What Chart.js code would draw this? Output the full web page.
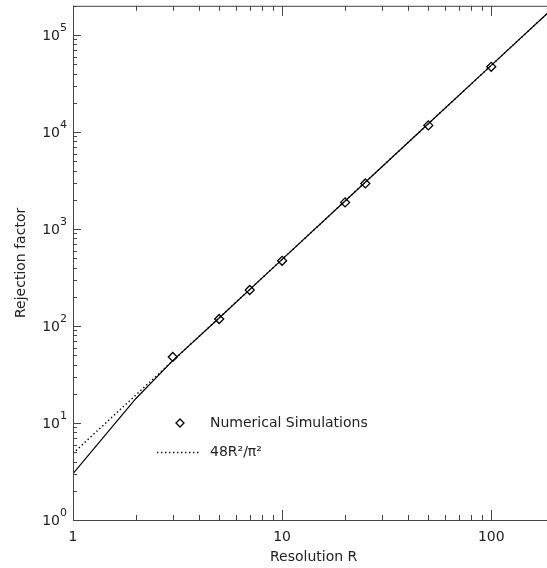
<!DOCTYPE html>
<html>
<head>
<meta charset="utf-8">
<script src="https://cdn.jsdelivr.net/npm/chart.js@4/dist/chart.umd.min.js"></script>
<style>
html,body{margin:0;padding:0;background:#fff;overflow:hidden;}
#wrap{width:560px;height:568px;}
</style>
</head>
<body>
<div id="wrap"><canvas id="c" width="560" height="568"></canvas></div>
<script>
// ---- data ----
const xTickValues = [1, 10, 100];
const yTickExponents = [0, 1, 2, 3, 4, 5];
const simR = [3, 5, 7, 10, 20, 25, 50, 100];
const simRejection = [48, 118, 235, 470, 1880, 2950, 11700, 47000];
const modelR = [1, 2, 3, 5, 10, 20, 50, 100, 200];
const modelRejection = [3.0, 17.9, 43.9, 121, 486, 1945, 12160, 48630, 194500];
const approxR = [1, 2, 3, 5, 10, 20, 50, 100, 200];
const approxRejection = [4.86, 19.5, 43.8, 121.6, 486, 1945, 12160, 48630, 194500];
const xTitle = 'Resolution R';
const yTitle = 'Rejection factor';
const legendSim = 'Numerical Simulations';
const legendApprox = '48R²/π²';

const toXY = (xs, ys) => xs.map((x, i) => ({x: x, y: ys[i]}));
const FONT = '"DejaVu Sans", sans-serif';
const TXT = '#222';
const AX = '#444';

const axesPlugin = {
  id: 'axesPlugin',
  afterDraw(chart) {
    const ctx = chart.ctx;
    const a = chart.chartArea;
    const xs = chart.scales.x, ys = chart.scales.y;
    ctx.save();
    ctx.strokeStyle = AX;
    ctx.lineWidth = 1;
    // box (right side falls outside the window)
    ctx.beginPath();
    ctx.moveTo(a.left + 0.5, a.top + 0.5);
    ctx.lineTo(a.left + 0.5, a.bottom + 0.5);
    ctx.moveTo(a.left, a.bottom + 0.5);
    ctx.lineTo(a.right, a.bottom + 0.5);
    ctx.moveTo(a.left, a.top + 0.5);
    ctx.lineTo(a.right, a.top + 0.5);
    ctx.stroke();
    // x ticks
    ctx.beginPath();
    for (let d = 0; d <= 3; d++) {
      for (let m = 1; m <= 9; m++) {
        const v = m * Math.pow(10, d);
        if (v < xs.min || v > xs.max) continue;
        const px = Math.round(xs.getPixelForValue(v)) + 0.5;
        const len = m === 1 ? 10 : 5;
        ctx.moveTo(px, a.bottom); ctx.lineTo(px, a.bottom - len);
        ctx.moveTo(px, a.top); ctx.lineTo(px, a.top + len);
      }
    }
    // y ticks
    for (let d = 0; d <= 6; d++) {
      for (let m = 1; m <= 9; m++) {
        const v = m * Math.pow(10, d);
        if (v < ys.min || v > ys.max) continue;
        const py = Math.round(ys.getPixelForValue(v)) + 0.5;
        const len = m === 1 ? 8 : 4;
        ctx.moveTo(a.left, py); ctx.lineTo(a.left + len, py);
      }
    }
    ctx.stroke();
    // x tick labels
    ctx.fillStyle = TXT;
    ctx.font = '14px ' + FONT;
    ctx.textAlign = 'center';
    ctx.textBaseline = 'middle';
    xTickValues.forEach(v => {
      ctx.fillText(String(v), xs.getPixelForValue(v), a.bottom + 17);
    });
    // y tick labels with superscript
    yTickExponents.forEach(e => {
      const py = ys.getPixelForValue(Math.pow(10, e));
      ctx.font = '11px ' + FONT;
      const ew = ctx.measureText(String(e)).width;
      ctx.textAlign = 'right';
      ctx.textBaseline = 'middle';
      const right = a.left - 6;
      ctx.fillText(String(e), right, py - 7);
      ctx.font = '14px ' + FONT;
      ctx.fillText('10', right - ew, py + 1);
    });
    // axis titles
    ctx.font = '14px ' + FONT;
    ctx.textAlign = 'center';
    ctx.textBaseline = 'middle';
    ctx.fillText(xTitle, (a.left + a.right) / 2, a.bottom + 37);
    ctx.save();
    ctx.translate(21, (a.top + a.bottom) / 2);
    ctx.rotate(-Math.PI / 2);
    ctx.fillText(yTitle, 0, 0);
    ctx.restore();
    // legend
    const lx = a.left + 107, ly1 = 423, ly2 = 452;
    ctx.strokeStyle = '#000';
    ctx.lineWidth = 1.3;
    ctx.beginPath();
    ctx.moveTo(lx, ly1 - 4); ctx.lineTo(lx + 4, ly1); ctx.lineTo(lx, ly1 + 4); ctx.lineTo(lx - 4, ly1); ctx.closePath();
    ctx.stroke();
    ctx.lineWidth = 1.4;
    ctx.setLineDash([1.4, 2.6]);
    ctx.beginPath();
    ctx.moveTo(lx - 23, ly2 + 0.5); ctx.lineTo(lx + 21, ly2 + 0.5);
    ctx.stroke();
    ctx.setLineDash([]);
    ctx.textAlign = 'left';
    ctx.fillStyle = TXT;
    ctx.font = '14px ' + FONT;
    ctx.fillText(legendSim, lx + 30, ly1);
    ctx.fillText(legendApprox, lx + 30, ly2);
    ctx.restore();
  }
};

new Chart(document.getElementById('c'), {
  type: 'scatter',
  data: {
    datasets: [
      {
        label: 'model',
        data: toXY(modelR, modelRejection),
        showLine: true,
        borderColor: '#000',
        borderWidth: 1.2,
        pointRadius: 0,
        fill: false
      },
      {
        label: legendApprox,
        data: toXY(approxR, approxRejection),
        showLine: true,
        borderColor: '#000',
        borderWidth: 1.4,
        borderDash: [1.4, 2.6],
        pointRadius: 0,
        fill: false
      },
      {
        label: legendSim,
        data: toXY(simR, simRejection),
        showLine: false,
        pointStyle: 'rectRot',
        pointRadius: 4.5,
        pointBorderWidth: 1.3,
        pointBorderColor: '#000',
        pointBackgroundColor: 'rgba(0,0,0,0)'
      }
    ]
  },
  options: {
    responsive: false,
    animation: false,
    devicePixelRatio: 1,
    layout: { padding: { left: 73, top: 4, right: 4, bottom: 48 } },
    plugins: { legend: { display: false }, tooltip: { enabled: false } },
    scales: {
      x: { type: 'logarithmic', min: 1, max: 200, display: false },
      y: { type: 'logarithmic', min: 1, max: 200000, display: false }
    }
  },
  plugins: [axesPlugin]
});
</script>
</body>
</html>
